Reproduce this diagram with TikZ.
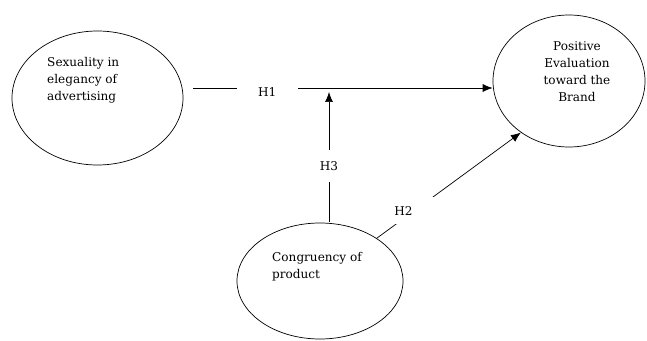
\documentclass[tikz,border=0pt]{standalone}
\usepackage{fontspec}
\setmainfont{DejaVu Serif}
\usepackage{tikz}
\usetikzlibrary{shapes.geometric,arrows.meta}

\tikzset{
  construct/.style={draw, ellipse, inner sep=0pt, line width=.6pt},
  blurb/.style={inner sep=0pt, font=\fontsize{10.3}{14.5}\selectfont},
  hyp/.style={fill=white, inner sep=0pt, font=\fontsize{10.3}{12}\selectfont},
  effect/.style={-{Latex[length=3mm,width=2.4mm]}, line width=.6pt}
}

\begin{document}
\begin{tikzpicture}[x=.03cm,y=-.03cm]
  \useasboundingbox (0,0) rectangle (647,341);
  % constructs
  \node[construct, minimum width=5.13cm, minimum height=4.02cm] (sex) at (97.5,98) {};
  \node[construct, minimum width=4.56cm, minimum height=3.96cm] (brand) at (569,81) {};
  \node[construct, minimum width=4.98cm, minimum height=3.48cm] (cong) at (320,281) {};
  \node[blurb, align=left, anchor=north west] (sextxt) at (47,57) {Sexuality in\\elegancy of\\advertising};
  \node[blurb, align=center] (brandtxt) at (577,72) {Positive\\Evaluation\\toward the\\Brand};
  \node[blurb, align=left, anchor=north west] (congtxt) at (272,252) {Congruency of\\product};
  % hypotheses
  \coordinate (h1start) at (193,88);
  \coordinate (h3start) at (329,222);
  \coordinate (h3end) at (329,92);
  \draw[effect] (h1start) -- node[hyp, pos=.248, minimum width=1.83cm, minimum height=.6cm, yshift=-3.4pt]{H1} (h1start -| brand.west);
  \draw[effect] (h3start) -- node[hyp, pos=.43, minimum height=.96cm, minimum width=.8cm]{H3} (h3end);
  \draw[effect] (cong.37) -- node[hyp, pos=.262, minimum height=.81cm]{\makebox[1.28cm][l]{\hspace{1pt}H2}} (brand.227);
\end{tikzpicture}
\end{document}
